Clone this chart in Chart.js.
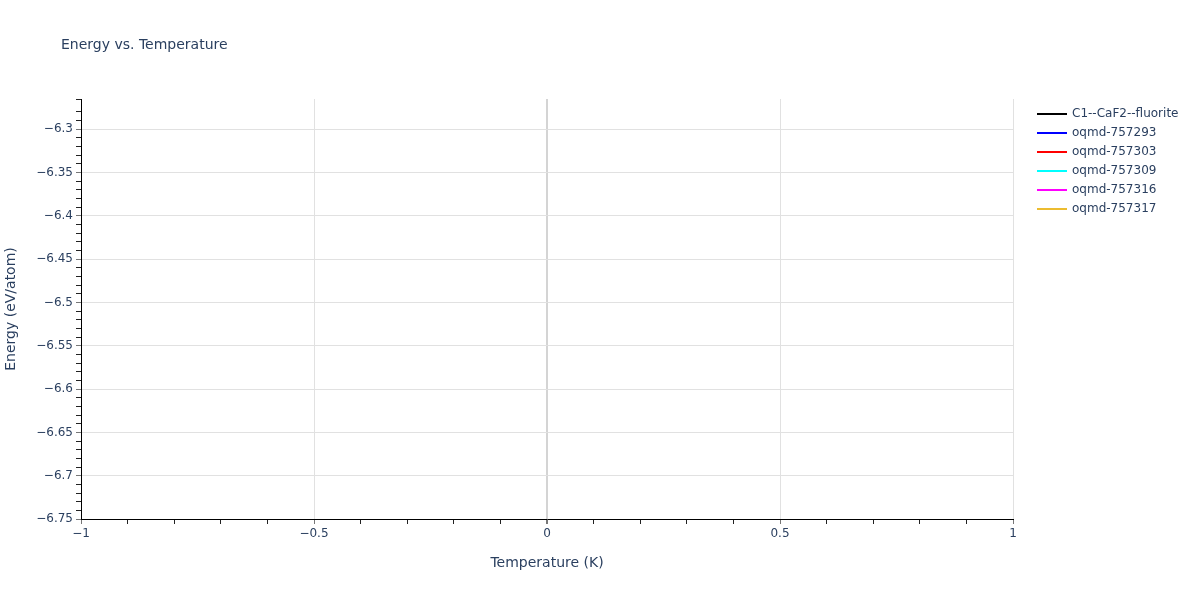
<!DOCTYPE html>
<html>
<head>
<meta charset="utf-8">
<title>Energy vs. Temperature</title>
<script src="https://cdn.jsdelivr.net/npm/chart.js@4/dist/chart.umd.min.js"></script>
<style>
  html, body { margin: 0; padding: 0; background: #fff; }
  #wrap { width: 1200px; height: 600px; }
</style>
</head>
<body>
<div id="wrap"><canvas id="energyChart" width="1200" height="600"></canvas></div>
<script>
// series shown in the legend (no points fall inside the plotted window)
const SERIES_NAMES = ['C1--CaF2--fluorite', 'oqmd-757293', 'oqmd-757303', 'oqmd-757309', 'oqmd-757316', 'oqmd-757317'];
const SERIES_COLORS = ['#000000', '#0000ff', '#ff0000', '#00ffff', '#ff00ff', '#ecbc30'];
const temperatures = [];
const energies = [[], [], [], [], [], []];

// axis ranges / ticks
const X_RANGE = [-1, 1];
const Y_RANGE = [-6.75, -6.265];
const X_MAJOR = [-1, -0.5, 0, 0.5, 1];

const TEXT = '#2a3f5f';
const GRID = '#e1e1e1';
const FONT = '"DejaVu Sans", Verdana, sans-serif';

const fmt = v => String(Math.abs(v) < 1e-9 ? 0 : +v.toFixed(3)).replace('-', '\u2212');
const isMajor = (v, step) => Math.abs(Math.round(v / step) - v / step) < 1e-6;

const PLOT = { left: 81, right: 1013, top: 99, bottom: 519 };

// titles + legend drawn on the canvas
const decor = {
    id: 'decor',
    afterDraw(chart) {
        const ctx = chart.ctx;
        ctx.save();
        ctx.fillStyle = TEXT;
        ctx.textBaseline = 'middle';
        ctx.font = '14px ' + FONT;
        ctx.textAlign = 'left';
        ctx.fillText('Energy vs. Temperature', 61, 45);

        ctx.textAlign = 'center';
        ctx.fillText('Temperature (K)', (PLOT.left + PLOT.right) / 2, 563);
        ctx.translate(11, (PLOT.top + PLOT.bottom) / 2);
        ctx.rotate(-Math.PI / 2);
        ctx.fillText('Energy (eV/atom)', 0, 0);
        ctx.restore();

        ctx.save();
        ctx.font = '12px ' + FONT;
        ctx.textBaseline = 'middle';
        chart.data.datasets.forEach((ds, i) => {
            const y = 114 + i * 19;
            ctx.strokeStyle = ds.borderColor;
            ctx.lineWidth = 2;
            ctx.beginPath();
            ctx.moveTo(1037, y);
            ctx.lineTo(1067, y);
            ctx.stroke();
            ctx.fillStyle = TEXT;
            ctx.fillText(ds.label, 1072, y);
        });
        ctx.restore();
    }
};

new Chart(document.getElementById('energyChart').getContext('2d'), {
    type: 'scatter',
    data: {
        datasets: SERIES_NAMES.map((name, i) => ({
            label: name,
            data: energies[i].map((e, j) => ({ x: temperatures[j], y: e })),
            borderColor: SERIES_COLORS[i],
            backgroundColor: SERIES_COLORS[i],
            showLine: true,
            borderWidth: 2,
            pointRadius: 0
        }))
    },
    options: {
        responsive: false,
        animation: false,
        devicePixelRatio: 1,
        layout: { padding: { left: 0, top: PLOT.top, right: 1200 - PLOT.right, bottom: 0 } },
        plugins: { legend: { display: false }, title: { display: false }, tooltip: { enabled: false } },
        scales: {
            x: {
                type: 'linear',
                min: X_RANGE[0],
                max: X_RANGE[1],
                afterFit: s => { s.height = 600 - PLOT.bottom; },
                border: { color: '#000', width: 1 },
                grid: {
                    color: c => Math.abs(c.tick.value) < 1e-9 ? '#d4d4d4' : (isMajor(c.tick.value, 0.5) ? GRID : 'rgba(0,0,0,0)'),
                    lineWidth: c => Math.abs(c.tick.value) < 1e-9 ? 2 : 1,
                    tickColor: c => isMajor(c.tick.value, 0.5) ? '#777' : '#222',
                    tickLength: 5,
                    drawOnChartArea: true
                },
                ticks: {
                    stepSize: 0.1,
                    autoSkip: false,
                    maxRotation: 0,
                    padding: 3,
                    color: TEXT,
                    font: { size: 12, family: FONT },
                    callback: v => X_MAJOR.some(m => Math.abs(m - v) < 1e-6) ? fmt(v) : ''
                }
            },
            y: {
                type: 'linear',
                min: Y_RANGE[0],
                max: Y_RANGE[1],
                afterFit: s => { s.width = PLOT.left; },
                border: { color: '#000', width: 1 },
                grid: {
                    color: c => isMajor(c.tick.value, 0.05) && c.tick.value > Y_RANGE[0] + 1e-6 ? GRID : 'rgba(0,0,0,0)',
                    tickColor: c => isMajor(c.tick.value, 0.05) ? '#777' : '#222',
                    tickLength: 5
                },
                ticks: {
                    stepSize: 0.01,
                    autoSkip: false,
                    padding: 3,
                    color: TEXT,
                    font: { size: 12, family: FONT },
                    callback: v => isMajor(v, 0.05) ? fmt(v) : ''
                }
            }
        }
    },
    plugins: [decor]
});
</script>
</body>
</html>
